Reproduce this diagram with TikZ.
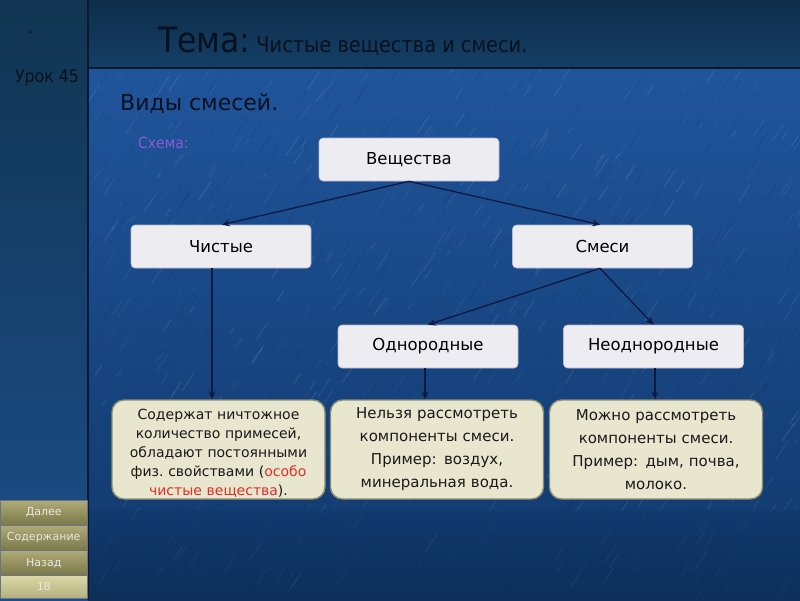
\documentclass[tikz,border=0pt]{standalone}
\usepackage{fontspec}
\setmainfont{DejaVu Sans}
\newfontfamily\condfont{DejaVu Sans Condensed}
\usetikzlibrary{arrows.meta}
\definecolor{mainTop}{HTML}{2258A2}
\definecolor{mainBot}{HTML}{10386A}
\definecolor{bandTop}{HTML}{0E2D4A}
\definecolor{bandBot}{HTML}{153F66}
\definecolor{leftTop}{HTML}{113552}
\definecolor{leftBot}{HTML}{1D4E8A}
\definecolor{darkline}{HTML}{0A1830}
\definecolor{darktext}{HTML}{07111F}
\definecolor{boxfill}{HTML}{ECECF1}
\definecolor{boxdraw}{HTML}{B8B8CC}
\definecolor{notefill}{HTML}{E8E6CE}
\definecolor{notedraw}{HTML}{8E8C70}
\definecolor{arrowcol}{HTML}{0B1A3E}
\definecolor{schemacol}{HTML}{8A5CD0}
\definecolor{redtext}{HTML}{E0302A}
\definecolor{btnTop}{HTML}{B0AC78}
\definecolor{btnBot}{HTML}{7A774A}
\definecolor{btnTopL}{HTML}{DCD8A8}
\definecolor{btnBotL}{HTML}{B4AF7E}
\definecolor{btntext}{HTML}{E8E8DC}
\tikzset{
  box/.style={draw=boxdraw, line width=0.6pt, fill=boxfill, rounded corners=4pt,
    minimum width=180pt, minimum height=43pt, inner sep=0pt,
    font=\fontsize{16.5}{18}\selectfont, text=black},
  notebox/.style={draw=notedraw, line width=1.4pt, fill=notefill, rounded corners=12pt,
    minimum width=213pt, minimum height=99pt, inner sep=0pt},
  notetext/.style={text width=200pt, align=center, inner sep=0pt,
    font=\fontsize{14}{19}\selectfont, text=black!90},
  notewide/.style={notebox, text width=200pt, align=center,
    font=\fontsize{15}{23}\selectfont, text=black!90},
  link/.style={draw=arrowcol, line width=1.3pt, -{Stealth[length=8pt,width=7pt,inset=3pt]}},
  btn/.style={shade, top color=btnTop, bottom color=btnBot, draw=darkline!60, line width=0.5pt},
  btnlabel/.style={text=btntext, font=\fontsize{11}{12}\selectfont}
}
\begin{document}
\begin{tikzpicture}[x=1pt,y=-1pt]
\useasboundingbox (0,0) rectangle (800,600);
% main background
\shade[top color=mainTop, bottom color=mainBot] (0,0) rectangle (800,600);
% texture streaks
\begin{scope}
\clip (88,68) rectangle (800,600);
\pgfmathsetseed{11}
\foreach \i in {1,...,500}{
  \pgfmathsetmacro{\xx}{88+712*rnd}
  \pgfmathsetmacro{\yy}{68+532*rnd}
  \pgfmathsetmacro{\ll}{5+18*rnd}
  \pgfmathsetmacro{\oo}{0.03+0.08*rnd}
  \draw[white, opacity=\oo, line width=1pt, line cap=round] (\xx,\yy) -- ++(\ll*0.55,-\ll*0.83);
}
\foreach \i in {1,...,250}{
  \pgfmathsetmacro{\xx}{88+712*rnd}
  \pgfmathsetmacro{\yy}{68+532*rnd}
  \pgfmathsetmacro{\ll}{6+18*rnd}
  \draw[black, opacity=0.07, line width=1pt, line cap=round] (\xx,\yy) -- ++(\ll*0.55,-\ll*0.83);
}
\end{scope}
% bottom darkening
\shade[top color=mainBot, bottom color=mainBot!70!black, opacity=0.5] (88,510) rectangle (800,600);
% top band
\shade[top color=bandTop, bottom color=bandBot] (88,0) rectangle (800,68);
% left panel
\shade[top color=leftTop, bottom color=leftBot] (0,0) rectangle (88,600);
\draw[darkline, line width=1.5pt] (88,68) -- (800,68);
\draw[darkline, line width=2pt] (88,0) -- (88,600);

% left panel texts
\node[text=darktext, font=\fontsize{10}{10}\selectfont] (star) at (30,34) {*};
\node[text=darktext, font=\condfont\fontsize{17.5}{18}\selectfont] (urok) at (47,78) {Урок 45};

% buttons
\node[btn, minimum width=87pt, minimum height=25pt, inner sep=0pt, anchor=north west] (dalee) at (0,500) {};
\node[btnlabel] at (dalee) {Далее};
\node[btn, minimum width=87pt, minimum height=25pt, inner sep=0pt, anchor=north west] (soderzh) at (0,525) {};
\node[btnlabel] at (soderzh) {Содержание};
\node[btn, minimum width=87pt, minimum height=25pt, inner sep=0pt, anchor=north west] (nazad) at (0,550) {};
\node[btnlabel] at (nazad) {Назад};
\node[btn, top color=btnTopL, bottom color=btnBotL, minimum width=87pt, minimum height=23pt, inner sep=0pt, anchor=north west] (page) at (0,575) {};
\node[btnlabel] at (page) {18};

% titles
\node[anchor=base west, inner sep=0pt, text=darktext] (tema) at (158,52)
  {{\condfont\fontsize{35}{38}\selectfont Тема:}\hspace{6pt}{\condfont\fontsize{21.5}{22}\selectfont Чистые вещества и смеси.}};
\node[anchor=base west, inner sep=0pt, text=darktext, font=\fontsize{22}{24}\selectfont] (vidy) at (120,110) {Виды смесей.};
\node[anchor=base west, inner sep=0pt, text=schemacol, font=\condfont\fontsize{15.5}{16}\selectfont] (schema) at (138,148) {Схема:};

% boxes
\node[box] (vesh) at (409,159.5) {Вещества};
\node[box] (chist) at (221,246.5) {Чистые};
\node[box] (smesi) at (602.5,246.5) {Смеси};
\node[box] (odn) at (428,346.5) {Однородные};
\node[box] (neodn) at (653.5,346.5) {Неоднородные};

% notes
\node[notebox] (n1) at (218.5,449.5) {};
\node[notetext] (n1t) at (218.5,453.5) {Содержат ничтожное количество примесей, обладают постоянными физ.~свойствами ({\color{redtext}особо чистые вещества}).};
\node[notewide] (n2) at (437,449.5) {Нельзя рассмотреть компоненты смеси.\\ Пример: воздух,\\ минеральная вода.};
\node[notewide] (n3) at (656,449.5) {Можно рассмотреть компоненты смеси.\\ Пример: дым, почва,\\ молоко.};

% connectors
\draw[link] (vesh.south) -- ([xshift=1pt]chist.north);
\draw[link] (vesh.south) -- ([xshift=-2.5pt]smesi.north);
\draw[link] ([xshift=-9pt]chist.south) -- ([xshift=-6.5pt]n1.north);
\draw[link] ([xshift=-2.5pt]smesi.south) -- (odn.north);
\draw[link] ([xshift=-2.5pt]smesi.south) -- (neodn.north);
\draw[link] ([xshift=-3pt]odn.south) -- ([xshift=-12pt]n2.north);
\draw[link] ([xshift=1.5pt]neodn.south) -- ([xshift=-1pt]n3.north);
\end{tikzpicture}
\end{document}
